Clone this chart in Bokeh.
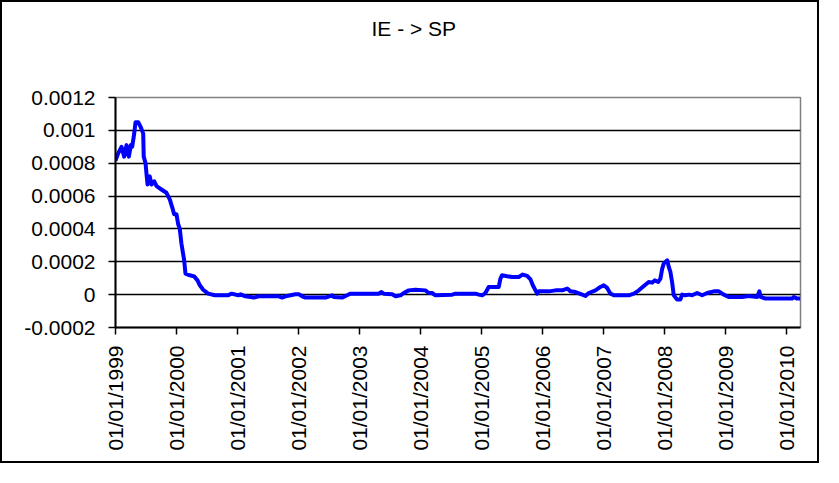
import math
from bokeh.plotting import figure
from bokeh.models import FixedTicker, Range1d
from bokeh.embed import file_html
from bokeh.resources import INLINE
import pandas as pd

title_text = "IE - > SP"

dates = [
    "1999-01-01", "1999-01-17", "1999-02-06", "1999-02-22", "1999-03-08", "1999-03-22",
    "1999-04-03", "1999-04-11", "1999-04-23", "1999-05-01", "1999-05-17", "1999-06-01",
    "1999-06-16", "1999-06-19", "1999-06-30", "1999-07-07", "1999-07-12", "1999-07-25",
    "1999-08-05", "1999-08-21", "1999-09-04", "1999-10-03", "1999-11-02", "1999-11-22",
    "1999-12-07", "1999-12-18", "2000-01-01", "2000-01-11", "2000-01-21", "2000-01-31",
    "2000-02-16", "2000-02-24", "2000-03-21", "2000-04-16", "2000-05-06", "2000-05-20",
    "2000-06-09", "2000-07-09", "2000-08-18", "2000-11-06", "2000-11-26", "2001-01-05",
    "2001-01-19", "2001-02-17", "2001-04-08", "2001-05-08", "2001-09-05", "2001-09-25",
    "2001-10-15", "2001-12-14", "2002-01-03", "2002-01-23", "2002-02-12", "2002-06-11",
    "2002-07-22", "2002-07-31", "2002-09-19", "2002-10-19", "2002-11-08", "2003-04-27",
    "2003-05-11", "2003-05-27", "2003-07-16", "2003-08-05", "2003-09-04", "2003-09-23",
    "2003-10-23", "2003-12-02", "2004-01-31", "2004-02-20", "2004-03-11", "2004-03-31",
    "2004-07-09", "2004-07-29", "2004-11-26", "2004-12-15", "2005-01-05", "2005-01-24",
    "2005-02-13", "2005-04-14", "2005-04-24", "2005-05-04", "2005-06-03", "2005-07-03",
    "2005-08-12", "2005-09-05", "2005-10-01", "2005-10-21", "2005-11-04", "2005-11-20",
    "2005-11-30", "2005-12-10", "2006-02-08", "2006-03-20", "2006-04-29", "2006-05-29",
    "2006-06-18", "2006-07-18", "2006-08-27", "2006-09-15", "2006-10-05", "2006-11-14",
    "2006-12-14", "2007-01-03", "2007-01-23", "2007-02-12", "2007-03-04", "2007-06-02",
    "2007-07-02", "2007-08-01", "2007-08-31", "2007-09-29", "2007-10-20", "2007-11-04",
    "2007-11-25", "2007-12-08", "2007-12-19", "2007-12-28", "2008-01-18", "2008-01-27",
    "2008-02-06", "2008-02-16", "2008-02-26", "2008-03-17", "2008-04-06", "2008-04-16",
    "2008-05-06", "2008-05-26", "2008-06-15", "2008-07-15", "2008-08-14", "2008-09-13",
    "2008-10-23", "2008-11-22", "2008-12-21", "2009-01-20", "2009-04-10", "2009-05-20",
    "2009-07-09", "2009-07-23", "2009-07-31", "2009-08-28", "2010-02-04", "2010-02-14",
    "2010-03-06", "2010-03-24",
]

values = [
    0.000816, 0.00086, 0.00090, 0.00084, 0.00091, 0.00084,
    0.00091, 0.00090, 0.00098, 0.00105, 0.00105, 0.00102,
    0.00098, 0.00084, 0.00080, 0.00072, 0.00067, 0.00072,
    0.00067, 0.00069, 0.00066, 0.00064, 0.00062, 0.00058,
    0.00053, 0.00049, 0.00049, 0.00043, 0.00040, 0.00031,
    0.00021, 0.000128, 0.000118, 0.000111, 0.000087, 0.000057,
    0.000030, 0.000006, -0.000004, -0.000004, 0.000006, -0.000004,
    0.000002, -0.000010, -0.000018, -0.000010, -0.000010, -0.000018,
    -0.000010, 0.000002, 0.000002, -0.000010, -0.000018, -0.000018,
    -0.000004, -0.000014, -0.000018, -0.000004, 0.000006, 0.000006,
    0.000016, 0.000006, 0.000002, -0.000010, -0.000004, 0.000010,
    0.000026, 0.000030, 0.000026, 0.000010, 0.000010, -0.000004,
    0.000000, 0.000006, 0.000006, 0.000000, -0.000004, 0.000010,
    0.000047, 0.000047, 0.000098, 0.000118, 0.000112, 0.000108,
    0.000108, 0.000122, 0.000114, 0.000093, 0.000057, 0.000026,
    0.000006, 0.000020, 0.000020, 0.000026, 0.000026, 0.000037,
    0.000020, 0.000016, 0.000000, -0.000008, 0.000010, 0.000026,
    0.000047, 0.000057, 0.000041, 0.000006, -0.000004, -0.000004,
    0.000006, 0.000026, 0.000053, 0.000077, 0.000073, 0.000087,
    0.000077, 0.000097, 0.000158, 0.000189, 0.000209, 0.000169,
    0.000138, 0.000077, -0.000004, -0.000029, -0.000029, 0.000000,
    -0.000004, 0.000000, -0.000004, 0.000010, -0.000004, 0.000010,
    0.000020, 0.000020, 0.000000, -0.000014, -0.000014, -0.000008,
    -0.000014, 0.000020, -0.000014, -0.000024, -0.000024, -0.000014,
    -0.000024, -0.000024,
]

x_tick_dates = ["1999-01-01", "2000-01-01", "2001-01-01", "2002-01-01", "2003-01-01",
                "2004-01-01", "2005-01-01", "2006-01-01", "2007-01-01", "2008-01-01",
                "2009-01-01", "2010-01-01"]
x_tick_labels = ["01/01/1999", "01/01/2000", "01/01/2001", "01/01/2002", "01/01/2003",
                 "01/01/2004", "01/01/2005", "01/01/2006", "01/01/2007", "01/01/2008",
                 "01/01/2009", "01/01/2010"]
x_start = "1999-01-01"
x_end = "2010-03-26"

y_ticks = [-0.0002, 0.0, 0.0002, 0.0004, 0.0006, 0.0008, 0.001, 0.0012]
y_tick_labels = ["-0.0002", "0", "0.0002", "0.0004", "0.0006", "0.0008", "0.001", "0.0012"]
y_grid_ticks = [0.0, 0.0002, 0.0004, 0.0006, 0.0008, 0.001]

FONT = "Liberation Sans"
FS = "21px"

def ms(d):
    return pd.Timestamp(d).value / 1e6

x = [ms(d) for d in dates]
xt = [ms(d) for d in x_tick_dates]

p = figure(width=819, height=463, x_axis_type="datetime",
           output_backend="svg", toolbar_location=None,
           x_range=Range1d(ms(x_start), ms(x_end)),
           y_range=Range1d(y_ticks[0], y_ticks[-1]),
           min_border_left=113, min_border_right=21,
           min_border_top=95, min_border_bottom=138)
p.styles = {"border": "2px solid #000000"}
p.background_fill_color = "white"
p.border_fill_color = "white"
p.outline_line_color = "#808080"
p.outline_line_width = 1.5

p.title.text = title_text
p.title.align = "left"
p.title.offset = 256
p.title.vertical_align = "top"
p.title.standoff = 0
p.title.padding = (0, 0, 14, 56)  # (left, right, top, bottom)
p.title.text_font = FONT
p.title.text_font_size = FS
p.title.text_font_style = "normal"
p.title.text_color = "black"

p.line(x, values, line_color="#0000FF", line_width=4, line_join="round")

p.xaxis.ticker = FixedTicker(ticks=xt)
p.xaxis.major_label_overrides = {t: l for t, l in zip(xt, x_tick_labels)}
p.xaxis.major_label_orientation = math.pi / 2
p.yaxis.ticker = FixedTicker(ticks=y_ticks)
p.yaxis.major_label_overrides = {t: l for t, l in zip(y_ticks, y_tick_labels)}

for ax in (p.xaxis[0], p.yaxis[0]):
    ax.axis_line_color = "black"
    ax.axis_line_width = 2
    ax.major_tick_line_color = "black"
    ax.major_tick_line_width = 1.5
    ax.major_tick_out = 7
    ax.major_tick_in = 0
    ax.minor_tick_line_color = None
    ax.major_label_text_font = FONT
    ax.major_label_text_font_size = FS
    ax.major_label_text_color = "black"
p.xaxis.major_label_standoff = 11
p.yaxis.major_label_standoff = 13

p.xgrid.grid_line_color = None
p.ygrid.grid_line_color = "black"
p.ygrid.grid_line_width = 1.5
p.ygrid[0].ticker = FixedTicker(ticks=y_grid_ticks)

open("out.html", "w").write(file_html(p, INLINE))
